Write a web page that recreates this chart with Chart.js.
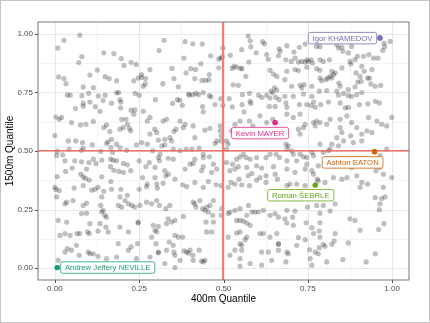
<!DOCTYPE html>
<html>
<head>
<meta charset="utf-8">
<script src="https://cdn.jsdelivr.net/npm/chart.js@4.4.1/dist/chart.umd.min.js"></script>
<style>
  html, body { margin: 0; padding: 0; background: #fff; }
  canvas { display: block; }
</style>
</head>
<body>
<canvas id="quantChart" width="430" height="323"></canvas>
<script>
// each athlete: [400m quantile, 1500m quantile]
const otherAthletes = [
  [0.074,0.994],[0.027,0.972],[0.009,0.939],[0.324,0.972],[0.080,0.902],[0.145,0.919],[0.175,0.915],[0.197,0.894],[0.071,0.877],[0.205,0.865],
  [0.226,0.878],[0.241,0.869],[0.309,0.928],[0.126,0.845],[0.104,0.824],[0.011,0.816],[0.027,0.809],[0.033,0.787],[0.149,0.817],[0.161,0.809],
  [0.183,0.799],[0.282,0.847],[0.234,0.799],[0.247,0.811],[0.257,0.826],[0.257,0.814],[0.269,0.809],[0.262,0.776],[0.268,0.786],[0.320,0.787],
  [0.084,0.773],[0.114,0.770],[0.037,0.739],[0.046,0.738],[0.080,0.736],[0.100,0.746],[0.129,0.735],[0.149,0.738],[0.183,0.748],[0.189,0.749],
  [0.238,0.746],[0.250,0.738],[0.104,0.709],[0.084,0.704],[0.084,0.691],[0.120,0.689],[0.143,0.715],[0.168,0.704],[0.193,0.719],[0.196,0.709],
  [0.195,0.684],[0.061,0.681],[0.298,0.719],[0.226,0.674],[0.237,0.675],[0.262,0.669],[0.134,0.669],
  [0.386,0.966],[0.409,0.957],[0.437,0.956],[0.573,0.990],[0.579,0.970],[0.616,0.966],[0.621,0.957],[0.581,0.945],[0.554,0.932],[0.498,0.939],
  [0.383,0.896],[0.462,0.906],[0.486,0.892],[0.496,0.901],[0.492,0.896],[0.520,0.908],[0.575,0.879],[0.597,0.919],[0.628,0.911],[0.633,0.891],
  [0.665,0.936],[0.668,0.925],[0.663,0.906],[0.347,0.852],[0.403,0.851],[0.417,0.848],[0.433,0.872],[0.389,0.833],[0.486,0.855],[0.531,0.861],
  [0.539,0.858],[0.550,0.852],[0.555,0.851],[0.526,0.852],[0.566,0.818],[0.638,0.844],[0.648,0.828],[0.658,0.818],[0.458,0.826],[0.353,0.809],
  [0.415,0.809],[0.436,0.801],[0.447,0.801],[0.457,0.803],[0.366,0.774],[0.529,0.782],[0.544,0.780],[0.651,0.769],[0.658,0.760],[0.641,0.755],
  [0.396,0.743],[0.399,0.738],[0.409,0.740],[0.418,0.746],[0.426,0.740],[0.440,0.749],[0.458,0.736],[0.463,0.731],[0.492,0.723],[0.517,0.723],
  [0.556,0.740],[0.577,0.746],[0.604,0.738],[0.646,0.748],[0.363,0.719],[0.370,0.716],[0.378,0.695],[0.349,0.703],[0.438,0.689],[0.475,0.698],
  [0.498,0.695],[0.526,0.688],[0.555,0.698],[0.579,0.712],[0.581,0.703],[0.614,0.728],[0.628,0.738],[0.638,0.726],[0.655,0.729],[0.665,0.719],
  [0.636,0.690],[0.653,0.690],[0.561,0.667],[0.440,0.667],
  [0.688,0.949],[0.709,0.922],[0.725,0.942],[0.742,0.956],[0.776,0.946],[0.786,0.945],[0.814,0.967],[0.836,0.953],[0.841,0.939],[0.851,0.942],
  [0.854,0.925],[0.870,0.918],[0.880,0.946],[0.897,0.904],[0.915,0.904],[0.931,0.911],[0.945,0.896],[0.958,0.896],[0.976,0.960],[0.978,0.945],
  [0.972,0.929],[0.994,0.967],[0.685,0.889],[0.701,0.882],[0.712,0.896],[0.722,0.879],[0.732,0.882],[0.742,0.879],[0.747,0.889],[0.752,0.882],
  [0.760,0.889],[0.764,0.875],[0.786,0.889],[0.796,0.882],[0.814,0.889],[0.875,0.882],[0.878,0.871],[0.890,0.889],[0.910,0.861],[0.940,0.847],
  [0.688,0.840],[0.712,0.847],[0.722,0.843],[0.747,0.857],[0.776,0.851],[0.786,0.844],[0.821,0.840],[0.831,0.833],[0.851,0.854],[0.893,0.833],
  [0.905,0.818],[0.917,0.840],[0.927,0.811],[0.682,0.804],[0.702,0.776],[0.727,0.780],[0.732,0.769],[0.739,0.783],[0.762,0.776],[0.786,0.811],
  [0.791,0.800],[0.804,0.804],[0.809,0.811],[0.816,0.818],[0.826,0.826],[0.821,0.811],[0.842,0.790],[0.846,0.776],[0.870,0.762],[0.890,0.774],
  [0.898,0.794],[0.908,0.797],[0.933,0.811],[0.937,0.786],[0.950,0.776],[0.966,0.780],[0.682,0.733],[0.707,0.733],[0.737,0.743],[0.762,0.733],
  [0.784,0.755],[0.806,0.757],[0.836,0.755],[0.841,0.738],[0.856,0.745],[0.870,0.736],[0.880,0.733],[0.895,0.740],[0.910,0.749],[0.685,0.705],
  [0.688,0.686],[0.725,0.698],[0.747,0.698],[0.760,0.694],[0.767,0.709],[0.772,0.686],[0.788,0.698],[0.811,0.709],[0.846,0.705],[0.870,0.686],
  [0.903,0.698],[0.928,0.701],[0.950,0.712],[0.962,0.705],[0.861,0.684],
  [0.003,0.645],[0.020,0.643],[0.013,0.635],[0.049,0.621],[0.076,0.611],[0.092,0.614],[0.114,0.626],[0.145,0.600],[0.153,0.611],[0.198,0.635],
  [0.211,0.635],[0.215,0.614],[0.234,0.657],[0.274,0.628],[0.282,0.643],[0.163,0.583],[0.193,0.593],[0.203,0.600],[0.221,0.597],[0.225,0.586],
  [0.282,0.572],[0.296,0.593],[0.302,0.579],[0.307,0.546],[0.000,0.566],[0.040,0.543],[0.062,0.543],[0.082,0.536],[0.111,0.526],[0.153,0.532],
  [0.158,0.539],[0.168,0.550],[0.183,0.529],[0.193,0.515],[0.166,0.515],[0.242,0.526],[0.257,0.536],[0.274,0.529],[0.007,0.498],[0.005,0.480],
  [0.023,0.484],[0.042,0.508],[0.079,0.503],[0.084,0.512],[0.136,0.498],[0.171,0.494],[0.213,0.503],[0.290,0.501],[0.312,0.486],[0.030,0.458],
  [0.059,0.458],[0.079,0.454],[0.101,0.451],[0.114,0.465],[0.122,0.447],[0.139,0.461],[0.165,0.465],[0.173,0.461],[0.183,0.458],[0.203,0.447],
  [0.215,0.441],[0.165,0.433],[0.175,0.418],[0.190,0.413],[0.203,0.409],[0.225,0.416],[0.250,0.458],[0.270,0.433],[0.280,0.451],[0.297,0.430],
  [0.307,0.472],[0.310,0.458],[0.051,0.427],[0.032,0.413],[0.094,0.423],[0.077,0.401],[0.007,0.391],[0.084,0.390],[0.091,0.383],[0.102,0.376],
  [0.139,0.390],[0.166,0.370],[0.260,0.387],[0.297,0.387],[0.302,0.359],[0.000,0.345],[0.003,0.336],[0.013,0.331],[0.057,0.342],[0.084,0.352],
  [0.109,0.333],[0.119,0.337],[0.128,0.345],[0.145,0.328],[0.168,0.337],[0.196,0.337],[0.250,0.337],[0.272,0.348],[0.274,0.359],[0.304,0.342],
  [0.321,0.628],[0.331,0.635],[0.353,0.583],[0.359,0.593],[0.341,0.557],[0.326,0.550],[0.346,0.543],[0.371,0.628],[0.386,0.614],[0.381,0.600],
  [0.410,0.607],[0.415,0.557],[0.445,0.589],[0.460,0.597],[0.480,0.543],[0.490,0.607],[0.490,0.586],[0.493,0.565],[0.493,0.543],[0.509,0.543],
  [0.514,0.529],[0.524,0.586],[0.534,0.614],[0.549,0.628],[0.577,0.628],[0.587,0.607],[0.608,0.650],[0.628,0.621],[0.646,0.635],[0.317,0.522],
  [0.326,0.526],[0.351,0.508],[0.371,0.501],[0.389,0.508],[0.406,0.508],[0.428,0.512],[0.440,0.486],[0.475,0.532],[0.509,0.508],[0.336,0.469],
  [0.351,0.465],[0.401,0.444],[0.410,0.447],[0.415,0.465],[0.440,0.472],[0.458,0.475],[0.470,0.444],[0.509,0.451],[0.527,0.444],[0.539,0.465],
  [0.549,0.475],[0.559,0.486],[0.567,0.472],[0.579,0.465],[0.598,0.472],[0.626,0.472],[0.638,0.486],[0.656,0.486],[0.666,0.472],[0.326,0.416],
  [0.336,0.401],[0.386,0.423],[0.440,0.433],[0.435,0.416],[0.465,0.409],[0.480,0.423],[0.519,0.416],[0.534,0.423],[0.544,0.433],[0.569,0.430],
  [0.573,0.394],[0.584,0.404],[0.598,0.437],[0.613,0.427],[0.626,0.394],[0.648,0.433],[0.653,0.401],[0.321,0.362],[0.329,0.394],[0.356,0.380],
  [0.379,0.356],[0.391,0.348],[0.415,0.366],[0.440,0.345],[0.455,0.370],[0.478,0.356],[0.493,0.352],[0.514,0.345],[0.522,0.366],[0.534,0.359],
  [0.546,0.380],[0.554,0.356],[0.577,0.352],[0.598,0.376],[0.608,0.387],[0.626,0.366],[0.660,0.380],
  [0.688,0.657],[0.727,0.657],[0.707,0.643],[0.722,0.593],[0.727,0.572],[0.737,0.600],[0.742,0.614],[0.767,0.621],[0.776,0.628],[0.772,0.607],
  [0.786,0.621],[0.806,0.614],[0.816,0.635],[0.846,0.635],[0.851,0.579],[0.846,0.600],[0.836,0.557],[0.866,0.650],[0.880,0.621],[0.895,0.600],
  [0.910,0.572],[0.925,0.586],[0.930,0.643],[0.940,0.579],[0.955,0.628],[0.969,0.614],[0.984,0.607],[0.999,0.643],[0.877,0.565],[0.910,0.543],
  [0.885,0.536],[0.841,0.522],[0.856,0.543],[0.821,0.529],[0.816,0.508],[0.811,0.501],[0.796,0.494],[0.786,0.529],[0.762,0.494],[0.767,0.480],
  [0.747,0.472],[0.727,0.486],[0.737,0.475],[0.707,0.486],[0.688,0.508],[0.685,0.529],[0.692,0.522],[0.702,0.501],[0.688,0.458],[0.984,0.508],
  [0.964,0.480],[0.717,0.458],[0.747,0.444],[0.781,0.437],[0.806,0.451],[0.826,0.444],[0.856,0.458],[0.880,0.430],[0.964,0.430],[0.688,0.423],
  [0.712,0.409],[0.742,0.423],[0.762,0.416],[0.767,0.401],[0.778,0.380],[0.781,0.373],[0.826,0.387],[0.851,0.380],[0.866,0.387],[0.895,0.394],
  [0.905,0.345],[0.910,0.366],[0.927,0.359],[0.952,0.416],[0.974,0.401],[0.974,0.345],[0.999,0.387],[0.688,0.352],[0.697,0.359],[0.717,0.359],
  [0.742,0.352],[0.801,0.366],
  [0.005,0.304],[0.030,0.275],[0.035,0.282],[0.054,0.289],[0.084,0.268],[0.094,0.278],[0.139,0.304],[0.136,0.268],[0.143,0.247],[0.139,0.240],
  [0.148,0.226],[0.153,0.218],[0.193,0.304],[0.208,0.289],[0.215,0.311],[0.198,0.261],[0.188,0.268],[0.218,0.275],[0.228,0.268],[0.237,0.261],
  [0.252,0.268],[0.272,0.282],[0.287,0.275],[0.302,0.289],[0.310,0.268],[0.010,0.204],[0.035,0.197],[0.079,0.233],[0.094,0.235],[0.104,0.190],
  [0.134,0.190],[0.151,0.176],[0.193,0.176],[0.247,0.197],[0.247,0.193],[0.292,0.183],[0.307,0.179],[0.297,0.162],[0.302,0.155],[0.030,0.148],
  [0.015,0.140],[0.045,0.140],[0.066,0.148],[0.074,0.148],[0.097,0.155],[0.102,0.148],[0.128,0.159],[0.158,0.155],[0.218,0.155],[0.188,0.105],
  [0.226,0.091],[0.218,0.077],[0.245,0.105],[0.287,0.133],[0.300,0.105],[0.307,0.069],[0.307,0.066],[0.010,0.034],[0.030,0.069],[0.037,0.084],
  [0.049,0.077],[0.064,0.098],[0.072,0.055],[0.099,0.069],[0.104,0.062],[0.114,0.062],[0.128,0.051],[0.153,0.041],[0.183,0.048],[0.242,0.041],
  [0.282,0.048],
  [0.341,0.268],[0.329,0.254],[0.336,0.211],[0.331,0.190],[0.346,0.197],[0.356,0.204],[0.381,0.221],[0.410,0.282],[0.415,0.275],[0.418,0.261],
  [0.430,0.289],[0.438,0.254],[0.445,0.247],[0.450,0.261],[0.470,0.289],[0.460,0.268],[0.455,0.240],[0.468,0.226],[0.495,0.254],[0.493,0.226],
  [0.514,0.233],[0.519,0.240],[0.534,0.247],[0.549,0.254],[0.574,0.268],[0.584,0.240],[0.569,0.226],[0.539,0.204],[0.549,0.204],[0.559,0.201],
  [0.569,0.193],[0.579,0.183],[0.593,0.240],[0.603,0.240],[0.618,0.247],[0.638,0.226],[0.653,0.233],[0.663,0.218],[0.448,0.197],[0.470,0.197],
  [0.465,0.155],[0.450,0.155],[0.514,0.133],[0.549,0.155],[0.539,0.150],[0.569,0.133],[0.564,0.122],[0.554,0.098],[0.549,0.105],[0.608,0.148],
  [0.618,0.148],[0.638,0.133],[0.658,0.148],[0.663,0.105],[0.663,0.102],[0.356,0.140],[0.366,0.133],[0.379,0.133],[0.339,0.112],[0.351,0.098],
  [0.353,0.069],[0.356,0.055],[0.383,0.074],[0.391,0.069],[0.396,0.065],[0.401,0.077],[0.409,0.055],[0.428,0.077],[0.435,0.031],[0.440,0.027],
  [0.445,0.034],[0.410,0.034],[0.371,0.034],[0.331,0.077],[0.326,0.020],[0.356,0.003],[0.519,0.055],[0.534,0.077],[0.554,0.077],[0.549,0.041],
  [0.579,0.020],[0.613,0.069],[0.633,0.069],[0.663,0.077],[0.643,0.034],[0.613,0.013],[0.549,0.009],
  [0.950,0.301],[0.969,0.297],[0.979,0.304],[0.964,0.275],[0.831,0.275],[0.816,0.244],[0.786,0.235],[0.796,0.268],[0.776,0.268],[0.749,0.261],
  [0.688,0.247],[0.712,0.244],[0.705,0.218],[0.682,0.211],[0.688,0.193],[0.707,0.183],[0.745,0.194],[0.762,0.173],[0.786,0.194],[0.767,0.148],
  [0.784,0.159],[0.786,0.133],[0.831,0.148],[0.828,0.116],[0.821,0.102],[0.796,0.102],[0.801,0.094],[0.784,0.088],[0.781,0.062],[0.772,0.069],
  [0.755,0.079],[0.757,0.041],[0.742,0.122],[0.722,0.131],[0.717,0.098],[0.688,0.069],[0.692,0.062],[0.685,0.027],[0.762,0.013],[0.806,0.027],
  [0.854,0.037],[0.870,0.108],[0.875,0.211],[0.890,0.204],[0.905,0.162],[0.962,0.250],[0.960,0.165],[0.976,0.190],[0.950,0.062],[0.923,0.027]
];

const highlightNames = ['Andrew Jeffery NEVILLE', 'Ashton EATON', 'Igor KHAMEDOV', 'Kevin MAYER', 'Roman ŠEBRLE'];
const highlight400 = [0.007, 0.948, 0.964, 0.653, 0.772];
const highlight1500 = [0.003, 0.497, 0.982, 0.621, 0.355];

const tickValues = [0, 0.25, 0.5, 0.75, 1];
const minorValues = [0.125, 0.375, 0.625, 0.875];
const medianLine = 0.5;

// styling / label placement (pixels relative to the point)
const highlightColors = ['#1B9E77', '#D95F02', '#7570B3', '#E7298A', '#66A61E'];
const labelOffsets = [[50.5, 0], [-22, 10.7], [-37.5, 0.2], [-15, 10.5], [-14.5, 10.2]];

const FONT = "'Liberation Sans', Arial, sans-serif";

// grid, tick marks and median lines drawn by hand under the points
const panelPlugin = {
    id: 'panel',
    beforeDatasetsDraw(chart) {
        const { ctx, chartArea: a, scales } = chart;
        ctx.save();
        minorValues.forEach(v => {
            const x = Math.round(scales.x.getPixelForValue(v)) + 0.5;
            const y = Math.round(scales.y.getPixelForValue(v)) + 0.5;
            ctx.strokeStyle = '#f4f4f4';
            ctx.lineWidth = 1;
            ctx.beginPath();
            ctx.moveTo(x, a.top); ctx.lineTo(x, a.bottom);
            ctx.moveTo(a.left, y); ctx.lineTo(a.right, y);
            ctx.stroke();
        });
        tickValues.forEach(v => {
            const x = Math.round(scales.x.getPixelForValue(v)) + 0.5;
            const y = Math.round(scales.y.getPixelForValue(v)) + 0.5;
            ctx.strokeStyle = '#e8e8e8';
            ctx.lineWidth = 1;
            ctx.beginPath();
            ctx.moveTo(x, a.top); ctx.lineTo(x, a.bottom);
            ctx.moveTo(a.left, y); ctx.lineTo(a.right, y);
            ctx.stroke();
            ctx.strokeStyle = '#555';
            ctx.beginPath();
            ctx.moveTo(x, a.bottom); ctx.lineTo(x, a.bottom + 3);
            ctx.moveTo(a.left - 3, y); ctx.lineTo(a.left, y);
            ctx.stroke();
        });
        ctx.restore();
    },
    afterDatasetsDraw(chart) {
        const { ctx, chartArea: a, scales } = chart;
        ctx.save();
        // median lines, snapped to whole pixel pairs so they stay crisp
        const xm = Math.floor(scales.x.getPixelForValue(medianLine) / 2) * 2;
        const ym = Math.floor(scales.y.getPixelForValue(medianLine) / 2) * 2;
        ctx.fillStyle = 'rgb(243, 125, 115)';
        ctx.fillRect(xm, a.top, 2, a.bottom - a.top);
        ctx.fillStyle = 'rgba(240, 100, 90, 0.9)';
        ctx.fillRect(a.left, ym, a.right - a.left, 1.5);

        // highlighted athletes drawn again on top of the lines
        highlightNames.forEach((name, i) => {
            const px = scales.x.getPixelForValue(highlight400[i]);
            const py = scales.y.getPixelForValue(highlight1500[i]);
            ctx.beginPath();
            ctx.arc(px, py, 2.6, 0, Math.PI * 2);
            ctx.fillStyle = highlightColors[i];
            ctx.fill();
        });

        ctx.font = '7.75px ' + FONT;
        ctx.textBaseline = 'middle';
        ctx.textAlign = 'center';
        highlightNames.forEach((name, i) => {
            const px = scales.x.getPixelForValue(highlight400[i]);
            const py = scales.y.getPixelForValue(highlight1500[i]);
            const cx = px + labelOffsets[i][0];
            const cy = py + labelOffsets[i][1];
            const w = ctx.measureText(name).width + 8.5;
            const h = 11.5;
            ctx.beginPath();
            ctx.roundRect(cx - w / 2, cy - h / 2, w, h, 2);
            ctx.fillStyle = '#fff';
            ctx.fill();
            ctx.strokeStyle = highlightColors[i];
            ctx.lineWidth = 0.8;
            ctx.stroke();
            ctx.fillStyle = highlightColors[i];
            ctx.fillText(name, cx, cy + 0.5);
        });
        // panel border
        ctx.strokeStyle = '#6b6b6b';
        ctx.lineWidth = 0.9;
        ctx.strokeRect(a.left, a.top, a.right - a.left, a.bottom - a.top);
        // picture frame
        ctx.strokeStyle = '#c4c4c4';
        ctx.lineWidth = 1;
        ctx.strokeRect(0.5, 0.5, chart.width - 1, chart.height - 1);
        ctx.restore();
    }
};

new Chart(document.getElementById('quantChart').getContext('2d'), {
    type: 'scatter',
    data: {
        datasets: [{
            data: otherAthletes.map(p => ({ x: p[0], y: p[1] })),
            backgroundColor: 'rgba(0,0,0,0.25)',
            borderWidth: 0,
            pointRadius: 2.6
        }, {
            data: highlight400.map((v, i) => ({ x: v, y: highlight1500[i] })),
            backgroundColor: highlightColors,
            borderWidth: 0,
            pointRadius: 2.6
        }]
    },
    options: {
        responsive: false,
        animation: false,
        devicePixelRatio: 1,
        layout: { padding: { top: 22, right: 21, left: 0, bottom: 0 } },
        plugins: { legend: { display: false }, tooltip: { enabled: false } },
        scales: {
            x: {
                type: 'linear', min: -0.05, max: 1.05,
                afterBuildTicks: s => { s.ticks = tickValues.map(v => ({ value: v })); },
                afterFit: s => { s.height = 43; },
                ticks: {
                    autoSkip: false, maxRotation: 0, padding: 1,
                    color: '#4d4d4d', font: { family: FONT, size: 8 },
                    callback: v => v.toFixed(2)
                },
                grid: { display: false, drawTicks: true, tickLength: 3 },
                border: { display: false },
                title: { display: true, text: '400m Quantile', color: '#000',
                         font: { family: FONT, size: 10 }, padding: { top: 0, bottom: 18 } }
            },
            y: {
                type: 'linear', min: -0.05, max: 1.05,
                afterBuildTicks: s => { s.ticks = tickValues.map(v => ({ value: v })); },
                afterFit: s => { s.width = 38; },
                ticks: {
                    autoSkip: false, padding: 2,
                    color: '#4d4d4d', font: { family: FONT, size: 8 },
                    callback: v => v.toFixed(2)
                },
                grid: { display: false, drawTicks: true, tickLength: 3 },
                border: { display: false },
                title: { display: true, text: '1500m Quantile', color: '#000',
                         font: { family: FONT, size: 10 }, padding: { top: 4, bottom: 0 } }
            }
        }
    },
    plugins: [panelPlugin]
});
</script>
</body>
</html>
